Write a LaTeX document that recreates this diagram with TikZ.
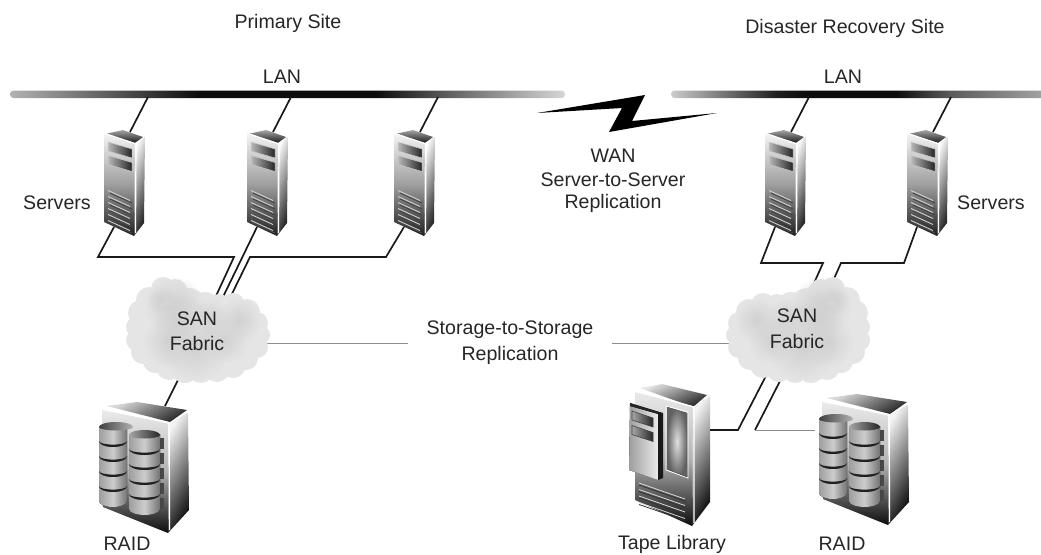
\documentclass[tikz,border=0pt]{standalone}
\usepackage{fontspec}
\usetikzlibrary{fadings}
\setmainfont{Liberation Sans}
\tikzfading[name=softblob, inner color=transparent!0, outer color=transparent!100]
\pgfdeclarehorizontalshading{lanleft}{100bp}{color(0bp)=(black!30); color(25bp)=(black!30); color(42bp)=(black!95); color(58bp)=(black!95); color(65bp)=(black!60); color(75bp)=(black!16); color(100bp)=(black!16)}
\pgfdeclarehorizontalshading{lanright}{100bp}{color(0bp)=(black!20); color(25bp)=(black!20); color(39bp)=(black!88); color(43bp)=(black!95); color(55bp)=(black!95); color(62bp)=(black!65); color(75bp)=(black!35); color(100bp)=(black!35)}
\newcommand{\discstack}[6]{% x0, x1, first top y, rx, tone left, tone right
  \foreach \i in {4,3,2,1,0}{
    \fill[left color=black!#5,right color=black!#6,middle color=black!20] (#1,#3+15*\i) -- (#2,#3+15*\i) -- (#2,#3+15+15*\i) arc[start angle=0,end angle=180,x radius=#4,y radius=6] -- cycle;
    \ifnum\i<4
    \fill[black!88] (#1,#3+15+15*\i) arc[start angle=180,end angle=0,x radius=#4,y radius=6] arc[start angle=0,end angle=180,x radius=#4,y radius=3.6] -- cycle;
    \fi
  }
}
\tikzset{
  lbl/.style={text=black!85,font=\fontsize{19.6}{22}\selectfont,inner sep=0pt,anchor=center},
  wire/.style={draw=black!90,line width=1.7pt,line join=miter},
  thinwire/.style={draw=black!45,line width=1pt},
  server/.pic={
    \coordinate (-top) at (130,132);
    \coordinate (-bot) at (114,227);
    \shade[top color=black!35,bottom color=black!90] (105,134)--(123,130)--(143,137)--(135,143)--cycle;
    \shade[top color=black!4,bottom color=black!88,middle color=black!38] (104,133)--(135,143)--(134,236)--(104,222)--cycle;
    \shade[left color=white,right color=black!90,shading angle=70] (135,143)--(145,137)--(144,223)--(134,236)--cycle;
    \draw[white,line width=1.2pt] (105,133.5)--(136,144)--(135.5,233);
    \foreach \d in {0,13.5}{
      \shade[left color=black!28,right color=black!85] (108,142+\d)--(132,149+\d)--(132,158+\d)--(108,151+\d)--cycle;
      \draw[white!80!black,line width=.5pt] (108,142+\d)--(132,149+\d)--(132,158+\d)--(108,151+\d)--cycle;
    }
    \foreach \d in {0,6,...,30}{
      \draw[black!72,line width=1pt] (110,193+\d)--(132,203+\d);
      \draw[black!18,line width=.9pt] (108,190.5+\d)--(130,200.5+\d);
    }
  },
  raid/.pic={
    \coordinate (-top) at (165,406);
    \coordinate (-side) at (95,430);
    \shade[left color=black!15,right color=black!85,shading angle=30] (107,406)--(137,402)--(187,410)--(170,422)--cycle;
    \shade[top color=black!8,bottom color=black!95,middle color=black!30] (102,410)--(168,423)--(168,533)--(103,507)--cycle;
    \shade[left color=black!5,right color=black!95,shading angle=60] (168,423)--(188,413)--(189,510)--(168,533)--cycle;
    \draw[white,line width=1.4pt] (104,409)--(169,423)--(169.5,530);
    \discstack{99}{127}{426}{14}{38}{55}
    \shade[left color=black!75,right color=black!30] (99,427) arc[start angle=180,end angle=360,x radius=17,y radius=5] arc[start angle=0,end angle=180,x radius=17,y radius=3.5] -- cycle;
    \foreach \i in {0,1,2,3,4}{\fill[black!72] (160,438+15*\i) rectangle (164,449+15*\i);}
    \discstack{129}{160}{434}{15.5}{38}{55}
    \shade[left color=black!35,right color=black!85] (129,435) arc[start angle=180,end angle=360,x radius=15.5,y radius=5] arc[start angle=0,end angle=180,x radius=15.5,y radius=3.5] -- cycle;
  },
  tapelib/.pic={
    \coordinate (-side) at (710,430);
    \shade[left color=black!10,right color=black!85,shading angle=25] (640,388)--(662,384)--(707,395)--(693,407)--cycle;
    \shade[top color=black!8,bottom color=black!95,middle color=black!30] (635,392)--(693,407)--(692,526)--(635,500)--cycle;
    \shade[left color=black!5,right color=black!95,shading angle=60] (693,407)--(710,396)--(710,502)--(692,526)--cycle;
    \draw[white,line width=1.4pt] (637,391)--(694,407)--(694,523);
    \fill[black!90] (630,403)--(663,413)--(663,478)--(658,480)--(629,470)--cycle;
    \shade[left color=black!38,right color=black!8] (630,406)--(658,414)--(658,480)--(629,470)--cycle;
    \fill[black!85] (630,403)--(658,412)--(658,414)--(630,406)--cycle;
    \foreach \d in {0,14.5}{
      \shade[left color=black!35,right color=black!85] (632,411+\d)--(653,418+\d)--(653,427+\d)--(632,420+\d)--cycle;
      \draw[black!75,line width=.6pt] (632,411+\d)--(653,418+\d)--(653,427+\d)--(632,420+\d)--cycle;
    }
    \draw[white,line width=.8pt] (666,406)--(688,412)--(688,478)--(666,470)--cycle;
    \fill[inner color=black!12,outer color=black!62] (667,407)--(687,413)--(687,477)--(667,469)--cycle;
    \foreach \d in {0,6.5,13,19.5}{
      \draw[white!85!black,line width=.8pt] (639,483+\d)--(685,499+\d);
      \draw[black!80,line width=.8pt] (639,485+\d)--(685,501+\d);
    }
  },
  cloud/.pic={
    \coordinate (-c) at (0,0);
    \foreach \x/\y/\r in {-36/-41/12,-24/-38/13,-50/-30/13,-58/-17/13,-63/-3/10,-62/10/11,-56/22/12,-44/31/12,-30/37/13,-14/39/14,2/40/13,18/39/13,34/35/13,47/28/12,58/17/11,62/5/9,58/-7/11,48/-18/13,34/-25/12,20/-24/12,6/-24/14,-10/-26/16,0/5/38,-28/3/28,28/5/28}
      \fill[black!10] (\x,\y) circle[radius=\r];
    \foreach \x/\y/\r in {-25/-25/30,-20/-12/26,-30/12/26,-5/18/34,25/10/24,40/-10/22,10/-12/20,-38/-30/14}
      \fill[black!18,path fading=softblob] (\x,\y) circle[radius=\r];
  }
}
\begin{document}
\begin{tikzpicture}[x=1pt,y=-1pt]
\useasboundingbox (0,0) rectangle (1041,554);
% LAN bars
\shade[shading=lanleft,rounded corners=3.5pt] (10,90.5) rectangle (565,98);
\shade[shading=lanright,rounded corners=3.5pt] (671,90.5) rectangle (1047,98);
\coordinate (lanA) at (148,97);
\coordinate (lanB) at (291,97);
\coordinate (lanC) at (438,97);
\coordinate (lanD) at (809,97);
\coordinate (lanE) at (951,97);
% WAN bolt
\fill[black] (537,113)--(645,95)--(632,121)--(717,113)--(609,132)--(622,108)--cycle;
% free junctions
\coordinate (j1a) at (98,257);\coordinate (j1b) at (234,257);
\coordinate (j3a) at (386,257);\coordinate (j3b) at (250,257);
\coordinate (f1) at (216,296);\coordinate (f2) at (222,299);\coordinate (f3) at (227,304);
\coordinate (j4a) at (761,263);\coordinate (j4b) at (823,263);\coordinate (f4) at (811,290);
\coordinate (j5a) at (904,263);\coordinate (j5b) at (841,263);\coordinate (f5) at (829,290);
\coordinate (tj) at (738,430);\coordinate (tc) at (768,372);
\coordinate (rj) at (755,430);\coordinate (rc) at (780,381);
\coordinate (r2) at (815,430);
\coordinate (st1) at (408,343);\coordinate (st2) at (612,343);
\coordinate (c1e) at (265,343);\coordinate (c2e) at (730,343);
\coordinate (rt) at (182,372);
% connectors
\pic (s1) at (0,0) {server};
\pic (s2) at (143,0) {server};
\pic (s3) at (290,0) {server};
\pic (s4) at (661,0) {server};
\pic (s5) at (803,0) {server};
\draw[wire] (s1-top)--(lanA);
\draw[wire] (s2-top)--(lanB);
\draw[wire] (s3-top)--(lanC);
\draw[wire] (s4-top)--(lanD);
\draw[wire] (s5-top)--(lanE);
\draw[wire] (s1-bot)--(j1a)--(j1b)--(f1);
\draw[wire] (s2-bot)--(f2);
\draw[wire] (s3-bot)--(j3a)--(j3b)--(f3);
\draw[wire] (s4-bot)--(j4a)--(j4b)--(f4);
\draw[wire] (s5-bot)--(j5a)--(j5b)--(f5);
\draw[thinwire] (c1e)--(st1);
\draw[thinwire] (st2)--(c2e);
\pic (r1) at (0,0) {raid};
\pic (r2p) at (720,-8) {raid};
\pic (tl) at (0,0) {tapelib};
\draw[wire] (rt)--(r1-top);
\draw[wire] (tl-side)--(tj)--(tc);
\draw[wire] (rc)--(rj);
\draw[thinwire] (rj)--(r2);
\pic (c1) at (199,330) {cloud};
\pic[xscale=-1] (c2) at (797,330) {cloud};
% labels
\node[lbl] (t1) at (288,23) {Primary Site};
\node[lbl] (t2) at (845,28) {Disaster Recovery Site};
\node[lbl] (t3) at (282,77) {LAN};
\node[lbl] (t4) at (843,77) {LAN};
\node[lbl] (t5) at (57,203) {Servers};
\node[lbl] (t6) at (991,203) {Servers};
\node[lbl] (t7) at (613,156) {WAN};
\node[lbl] (t8) at (613,180) {Server-to-Server};
\node[lbl] (t9) at (613,203) {Replication};
\node[lbl] (t10) at (197,319) {SAN};
\node[lbl] (t11) at (197,343) {Fabric};
\node[lbl] (t12) at (797,316) {SAN};
\node[lbl] (t13) at (797,341) {Fabric};
\node[lbl] (t14) at (510,330) {Storage-to-Storage};
\node[lbl] (t15) at (510,355) {Replication};
\node[lbl] (t16) at (127,544) {RAID};
\node[lbl] (t17) at (672,544) {Tape Library};
\node[lbl] (t18) at (842,544) {RAID};
\end{tikzpicture}
\end{document}
